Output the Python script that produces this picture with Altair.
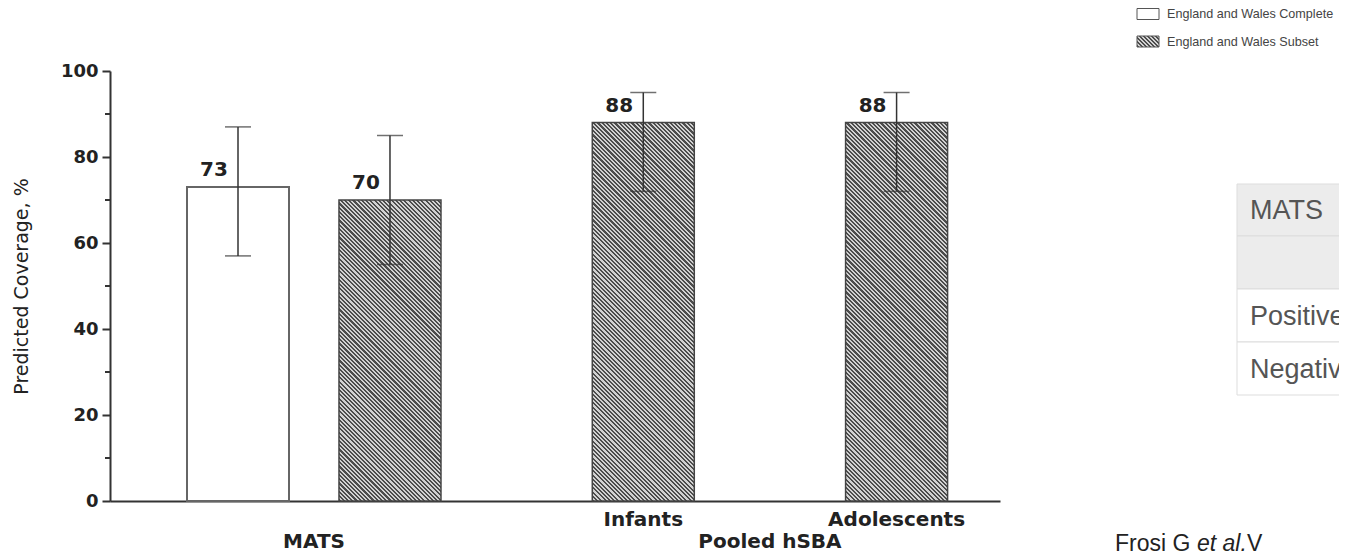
import altair as alt
import numpy as np
import pandas as pd

# ---------------- data ----------------
categories = ["MATS Complete", "MATS Subset", "Infants", "Adolescents"]
series = ["England and Wales Complete", "England and Wales Subset",
          "England and Wales Subset", "England and Wales Subset"]
values = [73, 70, 88, 88]
ci_low = [57, 55, 72, 72]
ci_high = [87, 85, 95, 95]
group_labels = ["MATS", "Pooled hSBA"]
legend_labels = ["England and Wales Complete", "England and Wales Subset"]
table_labels = ["MATS", "", "Positive", "Negative"]
source_note = ["Frosi G ", "et al.", " V"]
y_major_ticks = [0, 20, 40, 60, 80, 100]
y_minor_ticks = [10, 30, 50, 70, 90]

# ---------------- layout ----------------
W, H = 890, 430
PAD = {"left": 102, "top": 63, "right": 339, "bottom": 54}   # total 1331 x 547
BAR_W = 102
Y_MAX = 100

# band slots (spacers give the uneven spacing of the original figure)
slot_domain = ["gap0", "gap1", "MATS Complete", "gap3", "gap4", "MATS Subset",
               "gap6", "gap7", "gap8", "gap9", "Infants", "gap11", "gap12",
               "gap13", "gap14", "Adolescents", "gap16"]
PAD_OUTER = 0.284
ALIGN = 0.047

def band_center(cat):
    n = len(slot_domain)
    step = W / (n + 2 * PAD_OUTER)
    start = (W - step * n) * ALIGN
    return start + step * (slot_domain.index(cat) + 0.5)

def hatch(w, h, period=3.0, duty=0.5, dark="#4d4d4d", light="#d2d2d2"):
    r = h / w
    s = (1 + r) / (1 + r * r)
    n = max(1, int(round((w + h) / (np.sqrt(2) * period))))
    stops = []
    for k in range(n):
        a = round(k / n, 5)
        b = round((k + duty) / n, 5)
        c = round((k + 1) / n, 5)
        stops += [{"offset": a, "color": dark}, {"offset": b, "color": dark},
                  {"offset": b, "color": light}, {"offset": c, "color": light}]
    return {"gradient": "linear", "x1": 0, "y1": 1, "x2": s, "y2": 1 - r * s,
            "stops": stops}

df = pd.DataFrame({
    "category": categories,
    "series": series,
    "value": values,
    "low": ci_low,
    "high": ci_high,
    "label": [str(v) for v in values],
})

x_scale = alt.Scale(domain=slot_domain, paddingInner=0, paddingOuter=PAD_OUTER,
                    align=ALIGN, round=False)
y_scale = alt.Scale(domain=[0, Y_MAX], nice=False, zero=True)

x_axis = alt.Axis(
    title=None,
    labelExpr="(datum.value == 'Infants' || datum.value == 'Adolescents') ? datum.value : ''",
    ticks=False, labelAngle=0, labelPadding=8, labelOverlap=False,
    labelFont="DejaVu Sans", labelFontWeight="bold", labelFontSize=20, labelColor="#222222",
    domainColor="#333333", domainWidth=2, grid=False,
)
y_axis = alt.Axis(
    title="Predicted Coverage, %", values=y_major_ticks,
    tickSize=8, tickWidth=2, tickColor="#333333", domainColor="#333333", domainWidth=2,
    labelFont="DejaVu Sans", labelFontWeight="bold", labelFontSize=18, labelColor="#222222",
    labelPadding=4, grid=False,
    titleFont="DejaVu Sans", titleFontWeight="normal", titleFontSize=19, titleColor="#222222",
    titlePadding=29,
)

def X():
    return alt.X("category:N", scale=x_scale, axis=x_axis)

def Y(field):
    return alt.Y(field, scale=y_scale, axis=y_axis)

base = alt.Chart(df)

white_bar = base.transform_filter(alt.datum.category == categories[0]).mark_bar(
    width=BAR_W, fill="white", stroke="#666666", strokeWidth=2
).encode(x=X(), y=Y("value:Q"))

hatched = []
for cat, v in zip(categories[1:], values[1:]):
    hatched.append(
        base.transform_filter(alt.datum.category == cat).mark_bar(
            width=BAR_W, fill=hatch(BAR_W, v * H / Y_MAX), stroke="#444444", strokeWidth=1.5
        ).encode(x=X(), y=Y("value:Q"))
    )

err_rule = base.mark_rule(color="#333333", strokeWidth=1.5).encode(
    x=X(), y=Y("low:Q"), y2="high:Q")
cap_low = base.mark_tick(color="#333333", size=26, thickness=1.5).encode(
    x=X(), y=Y("low:Q"))
cap_high = base.mark_tick(color="#333333", size=26, thickness=1.5).encode(
    x=X(), y=Y("high:Q"))

value_text = base.mark_text(
    dx=-24, dy=-17, font="DejaVu Sans", fontWeight="bold", fontSize=20,
    color="#222222", baseline="middle", align="center"
).encode(x=X(), y=Y("value:Q"), text="label:N")

# minor ticks on the y axis
minor = alt.Chart(pd.DataFrame({"v": y_minor_ticks})).mark_rule(
    color="#333333", strokeWidth=2
).encode(x=alt.value(-5), x2=alt.value(0), y=Y("v:Q"))

# group labels under the axis
group_layers = []
group_members = [categories[:2], categories[2:]]
for lbl, members in zip(group_labels, group_members):
    cx = float(np.mean([band_center(c) for c in members]))
    group_layers.append(
        alt.Chart(alt.Data(values=[{"t": lbl}])).mark_text(
            font="DejaVu Sans", fontWeight="bold", fontSize=20, color="#222222",
            align="center", baseline="middle"
        ).encode(x=alt.value(cx), y=alt.value(471), text="t:N")
    )

# legend (top right)
one = alt.Data(values=[{"k": 1}])
leg_sw1 = alt.Chart(one).mark_rect(fill="white", stroke="#555555", strokeWidth=1).encode(
    x=alt.value(1027), x2=alt.value(1049), y=alt.value(-62.5), y2=alt.value(-51.5))
leg_sw2 = alt.Chart(one).mark_rect(fill=hatch(22, 11, period=3.0), stroke="#555555", strokeWidth=1).encode(
    x=alt.value(1027), x2=alt.value(1049), y=alt.value(-35), y2=alt.value(-24))
leg_text = []
for lbl, yy in zip(legend_labels, [-57, -29]):
    leg_text.append(
        alt.Chart(alt.Data(values=[{"t": lbl}])).mark_text(
            font="Liberation Sans", fontSize=12.6, color="#444444", align="left", baseline="middle"
        ).encode(x=alt.value(1057), y=alt.value(yy), text="t:N")
    )

# partial table at the right edge
row_edges = [113, 165, 218, 271, 324]
row_fills = ["#ececec", "#ececec", "#ffffff", "#ffffff"]
table_layers = []
for i, fillc in enumerate(row_fills):
    table_layers.append(
        alt.Chart(one).mark_rect(fill=fillc, stroke="#dddddd", strokeWidth=1).encode(
            x=alt.value(1127), x2=alt.value(1300), y=alt.value(row_edges[i]), y2=alt.value(row_edges[i + 1]))
    )
for i, lbl in enumerate(table_labels):
    if lbl:
        table_layers.append(
            alt.Chart(alt.Data(values=[{"t": lbl}])).mark_text(
                font="Liberation Sans", fontSize=27, color="#555555", align="left", baseline="middle"
            ).encode(x=alt.value(1140), y=alt.value((row_edges[i] + row_edges[i + 1]) / 2 + 1), text="t:N")
        )

# source note at bottom right
note_layers = []
note_x = [1005, 1087, 1137]
note_style = ["normal", "italic", "normal"]
for t, xx, st in zip(source_note, note_x, note_style):
    note_layers.append(
        alt.Chart(alt.Data(values=[{"t": t}])).mark_text(
            font="Liberation Sans", fontSize=23, fontStyle=st, color="#222222",
            align="left", baseline="alphabetic"
        ).encode(x=alt.value(xx), y=alt.value(480), text="t:N")
    )

chart = alt.layer(
    white_bar, *hatched, err_rule, cap_low, cap_high, value_text, minor,
    *group_layers, leg_sw1, leg_sw2, *leg_text, *table_layers, *note_layers
).properties(
    width=W, height=H, padding=PAD, autosize=alt.AutoSizeParams(type="none"),
    background="white",
).configure_view(stroke=None)

chart.save("out.html", embed_options={"renderer": "svg", "actions": False})
